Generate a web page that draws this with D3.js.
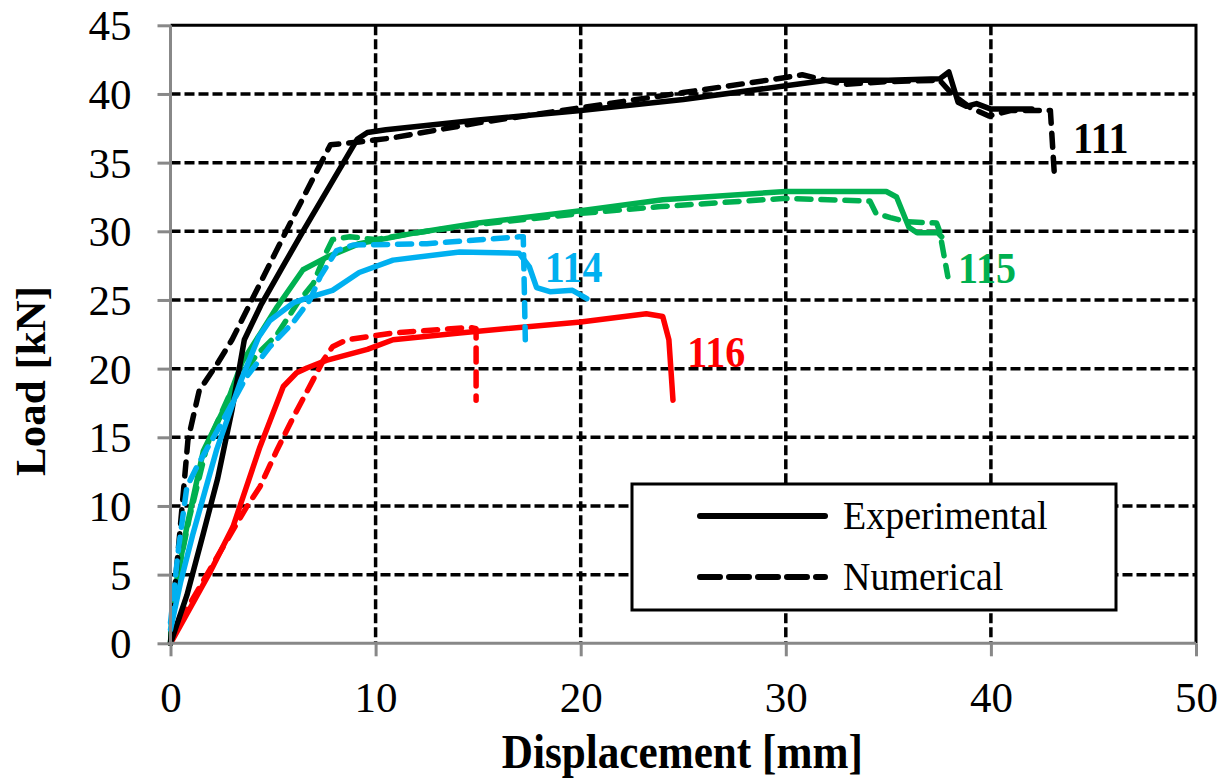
<!DOCTYPE html>
<html>
<head>
<meta charset="utf-8">
<script src="https://cdn.jsdelivr.net/npm/d3@7"></script>
<style>
  body { margin: 0; background: #fff; }
  text { font-family: "Liberation Serif", "Times New Roman", serif; fill: #000; }
</style>
</head>
<body>
<div id="chart"></div>
<script>
//////////////////////////////////////////////////////////////////////////////
// Data (displacement [mm], load [kN])

var exp111 = [[0,0],[0.8,3.5],[1.6,8],[2.3,12],[3.0,17],[3.6,22.1],[4.4,24.6],[5.5,27.5],
    [6.5,30.1],[7.8,33.4],[9.1,36.7],[9.6,37.2],[10.5,37.4],[15,38.1],[20,38.8],[25,39.6],
    [30,40.6],[32,41.0],[35,41.0],[37.5,41.1],[37.95,41.6],[38.4,39.4],[38.8,39.1],
    [39.3,39.3],[40,38.9],[42,38.9]];
var num111 = [[0,0],[0.15,3],[0.45,8],[0.85,14.8],[1.4,18.4],[2.3,20.4],[3.0,22.1],
    [4.0,25.1],[5.5,29.6],[7.0,34.0],[7.8,36.3],[9.2,36.5],[10.8,36.8],[15,37.9],[20,39.0],
    [25,40.1],[30,41.2],[30.8,41.4],[32.8,40.7],[35,40.9],[37.5,41.0],[38.1,40.0],[39,39.0],
    [39.9,38.4],[41,38.8],[42.9,38.8],[43.1,34.0]];

var exp115 = [[0,0],[0.1,3],[0.8,8.5],[1.6,14],[2.75,17.5],[3.5,20.5],[4.4,22.6],[5.2,24.5],
    [6.46,27.2],[7.6,28.1],[9.2,29.1],[12,29.9],[15,30.6],[20,31.5],[24,32.3],[30,32.9],
    [34.9,32.9],[35.4,32.5],[36.0,30.3],[36.4,29.9],[37.4,29.9],[37.6,29.6]];
var num115 = [[0,0],[0.15,3.5],[0.9,9],[1.8,14.5],[3.0,18.5],[4.2,21],[5.2,22.5],[6.2,24.8],
    [6.96,26.2],[7.6,28.5],[7.9,29.4],[8.75,29.6],[10,29.4],[12,29.9],[15,30.5],[20,31.3],
    [23.9,31.8],[30,32.4],[34.1,32.2],[34.4,31.3],[35.1,31.0],[35.9,30.7],[37.35,30.6],
    [37.5,30.0],[37.9,26.7]];

var exp114 = [[0,1],[0.5,4.5],[1.1,8],[2.25,14.1],[3.4,19],[4.3,22.3],[4.85,23.5],[6.0,24.8],
    [6.8,25.2],[7.9,25.7],[9.2,27.0],[10.85,27.9],[14.1,28.5],[17.0,28.4],[17.5,27.4],
    [17.85,25.9],[18.5,25.6],[19.6,25.7],[20.3,25.1]];
var num114 = [[0,1.5],[0.4,7],[0.8,11.4],[1.3,12.9],[2.4,15.8],[3.7,19.4],[4.85,21.6],
    [6.0,23.4],[6.8,25],[7.3,26.7],[8.1,28.6],[8.9,29.0],[12.5,29.1],[17.0,29.6],[17.2,29.6],
    [17.3,22.1]];

var exp116 = [[0,0],[1.9,5.1],[3.05,8.5],[4.36,14.3],[5.5,18.7],[6.15,19.7],[6.65,20.05],
    [7.6,20.6],[9.6,21.4],[10.85,22.1],[14.1,22.6],[20,23.4],[23.2,24.0],[24.0,23.8],
    [24.3,22.1],[24.5,17.7]];
var num116 = [[0,0],[0.1,0.7],[2.75,7.5],[3.7,9.9],[4.36,11.4],[5.2,14.1],[6.0,16.5],
    [6.96,19.2],[7.45,20.6],[7.9,21.6],[8.6,22.1],[10.85,22.6],[14.6,23.0],[14.9,22.9],
    [14.9,17.7]];

// specimen names and where their label starts (data units)
var specimens = ["116", "115", "111", "114"];
var specimenColors = ["#ff0000", "#00b050", "#000000", "#00b0f0"];
var labelAt = [[25.2,20.1], [38.4,26.25], [44.0,35.7], [18.25,26.3]];

var xTicks = [0, 10, 20, 30, 40, 50];
var yTicks = [0, 5, 10, 15, 20, 25, 30, 35, 40, 45];
var legendNames = ["Experimental", "Numerical"];

//////////////////////////////////////////////////////////////////////////////
// Preliminaries

var width = 1224, height = 781;
var plotL = 170.5, plotR = 1196, plotT = 25.3, plotB = 643.3;

var xScale = d3.scaleLinear().domain([0, 50]).range([plotL, plotR]);
var yScale = d3.scaleLinear().domain([0, 45]).range([plotB, plotT]);

var series = {
    "111": [exp111, num111],
    "114": [exp114, num114],
    "115": [exp115, num115],
    "116": [exp116, num116]
};

var svg = d3.select("#chart")
    .append("svg")
    .attr("width", width)
    .attr("height", height);

// squeezed text, the figure is a bit narrower than plain Times
function sText(sel, x, y, sx) {
    return sel.append("text")
        .attr("transform", "translate(" + x + "," + y + ") scale(" + sx + ",1)");
}

//////////////////////////////////////////////////////////////////////////////
// Grid and frame

var grid = svg.append("g");

grid.selectAll("line.h")
    .data(yTicks.filter(function(d) { return d > 0 && d < 45; }))
    .enter()
    .append("line")
    .attr("x1", plotL).attr("x2", plotR)
    .attr("y1", function(d) { return yScale(d); })
    .attr("y2", function(d) { return yScale(d); })
    .attr("stroke", "#000")
    .attr("stroke-width", 3.5)
    .attr("stroke-dasharray", "10,4");

grid.selectAll("line.v")
    .data(xTicks.filter(function(d) { return d > 0 && d < 50; }))
    .enter()
    .append("line")
    .attr("x1", function(d) { return xScale(d); })
    .attr("x2", function(d) { return xScale(d); })
    .attr("y1", plotT).attr("y2", plotB)
    .attr("stroke", "#000")
    .attr("stroke-width", 3.5)
    .attr("stroke-dasharray", "10,4");

// top and right border
grid.append("path")
    .attr("d", "M" + plotL + "," + yScale(45) + "H" + xScale(50) + "V" + plotB)
    .attr("fill", "none")
    .attr("stroke", "#000")
    .attr("stroke-width", 3);

//////////////////////////////////////////////////////////////////////////////
// Curves

var line = d3.line()
    .x(function(d) { return xScale(d[0]); })
    .y(function(d) { return yScale(d[1]); });

var curves = svg.append("g")
    .attr("fill", "none")
    .attr("stroke-width", 5.5)
    .attr("stroke-linejoin", "round");

specimens.forEach(function(name, i) {
    curves.append("path")
        .attr("d", line(series[name][0]))
        .attr("stroke", specimenColors[i])
        .attr("stroke-linecap", "round");
    curves.append("path")
        .attr("d", line(series[name][1]))
        .attr("stroke", specimenColors[i])
        .attr("stroke-linecap", "round")
        .attr("stroke-dasharray", "14,10");
});

specimens.forEach(function(name, i) {
    sText(svg, xScale(labelAt[i][0]), yScale(labelAt[i][1]), 0.91)
        .attr("font-size", 44)
        .attr("font-weight", "bold")
        .style("fill", specimenColors[i])
        .text(name);
});

//////////////////////////////////////////////////////////////////////////////
// Axes

var xAxis = svg.append("g")
    .attr("transform", "translate(0," + plotB + ")")
    .call(d3.axisBottom(xScale).tickValues(xTicks).tickSize(13).tickPadding(20).tickFormat(d3.format("d")));

var yAxis = svg.append("g")
    .attr("transform", "translate(" + plotL + ",0)")
    .call(d3.axisLeft(yScale).tickValues(yTicks).tickSize(13).tickPadding(26).tickFormat(d3.format("d")));

[xAxis, yAxis].forEach(function(ax) {
    ax.select(".domain").attr("stroke", "#888").attr("stroke-width", 3);
    ax.selectAll(".tick line").attr("stroke", "#888").attr("stroke-width", 3);
    ax.selectAll(".tick text")
        .attr("font-size", 43)
        .attr("font-family", "Liberation Serif, Times New Roman, serif")
        .style("fill", "#000");
});
xAxis.select(".domain").attr("d", "M" + plotL + ",0H" + plotR);
yAxis.select(".domain").attr("d", "M0," + plotT + "V" + plotB);
xAxis.selectAll(".tick text").attr("dy", "0.84em");
yAxis.selectAll(".tick text").attr("dy", "0.34em");

sText(svg, (plotL + plotR) / 2 - 1, 768, 0.9)
    .attr("font-size", 48)
    .attr("font-weight", "bold")
    .attr("text-anchor", "middle")
    .text("Displacement [mm]");

svg.append("text")
    .attr("transform", "translate(45,381) rotate(-90)")
    .attr("font-size", 43)
    .attr("font-weight", "bold")
    .attr("text-anchor", "middle")
    .text("Load [kN]");

//////////////////////////////////////////////////////////////////////////////
// Legend

var legend = svg.append("g");

legend.append("rect")
    .attr("x", 632).attr("y", 484)
    .attr("width", 484).attr("height", 126)
    .attr("fill", "#fff")
    .attr("stroke", "#000")
    .attr("stroke-width", 3);

legendNames.forEach(function(name, i) {
    var y = 516 + i * 61;
    legend.append("line")
        .attr("x1", 700).attr("x2", 825)
        .attr("y1", y).attr("y2", y)
        .attr("stroke", "#000")
        .attr("stroke-width", 6)
        .attr("stroke-linecap", "round")
        .attr("stroke-dasharray", i === 0 ? null : "20,9");
    sText(legend, 843, y + 13, 0.95)
        .attr("font-size", 40)
        .text(name);
});
</script>
</body>
</html>
